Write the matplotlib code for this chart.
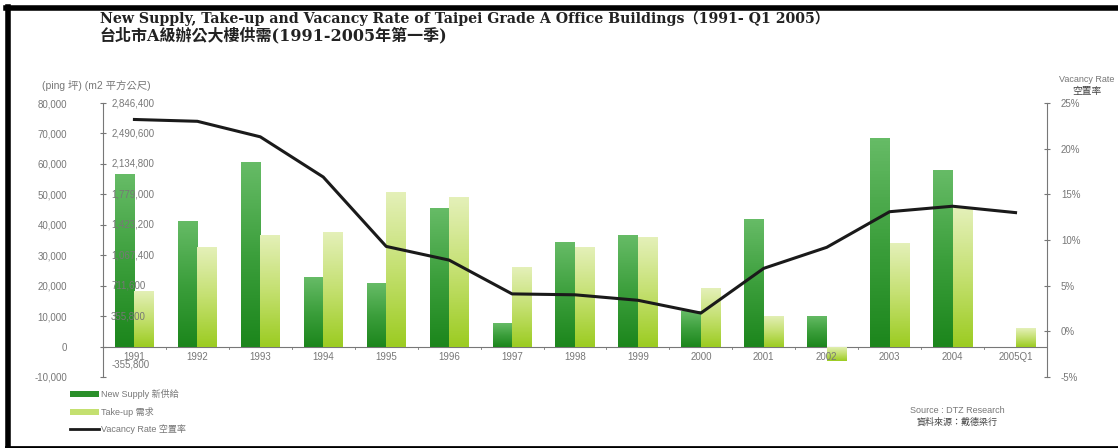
import numpy as np
import matplotlib
matplotlib.use("Agg")
import matplotlib.pyplot as plt
from matplotlib.colors import LinearSegmentedColormap
from matplotlib.lines import Line2D
from matplotlib.patches import Patch

years = ["1991", "1992", "1993", "1994", "1995", "1996", "1997", "1998",
         "1999", "2000", "2001", "2002", "2003", "2004", "2005Q1"]
new_supply = [56600, 41400, 60500, 22700, 21000, 45400, 7600, 34200,
              36500, 11800, 41800, 10200, 68400, 57900, 0]
take_up = [18400, 32600, 36800, 37500, 50700, 49000, 26000, 32600,
           35900, 19100, 10200, -4600, 33900, 45400, 6200]
vacancy = [23.2, 23.0, 21.3, 16.9, 9.3, 7.8, 4.1, 4.0,
           3.4, 2.0, 6.9, 9.2, 13.1, 13.7, 13.0]

left_ticks = [80000, 70000, 60000, 50000, 40000, 30000, 20000, 10000, 0, -10000]
sqm_labels = ["2,846,400", "2,490,600", "2,134,800", "1,779,000", "1,423,200",
              "1,067,400", "711,600", "355,800"]
right_ticks = [25, 20, 15, 10, 5, 0, -5]

font_list = ["Liberation Sans", "Noto Sans CJK TC"]
plt.rcParams["font.family"] = font_list
grey = "#777777"

fig = plt.figure(figsize=(11.18, 4.48), dpi=100)
ax = fig.add_axes([0.0921, 0.1585, 0.8444, 0.6115])
ax2 = ax.twinx()

x = np.arange(len(years))
w = 0.31
dark_cmap = LinearSegmentedColormap.from_list("dk", ["#1c861c", "#3c9f3c", "#66bb66"])
light_cmap = LinearSegmentedColormap.from_list("lt", ["#9ccc22", "#c4e070", "#e4f0b8"])
grad = np.linspace(0, 1, 64).reshape(-1, 1)

def gradient_bars(xs, vals, cmap):
    bars = ax.bar(xs, vals, width=w, color="none", edgecolor="none", zorder=2)
    for b in bars:
        x0, y0 = b.get_x(), b.get_y()
        bw, bh = b.get_width(), b.get_height()
        if bh == 0:
            continue
        lo, hi = min(y0, y0 + bh), max(y0, y0 + bh)
        im = ax.imshow(grad, cmap=cmap, origin="lower", aspect="auto",
                       extent=[x0, x0 + bw, lo, hi], zorder=2)
        im.set_clip_path(b)

gradient_bars(x - w / 2, new_supply, dark_cmap)
gradient_bars(x + w / 2, take_up, light_cmap)

ax.set_xlim(-0.5, len(years) - 0.5)
ax.set_ylim(-10000, 80000)
ax.set_yticks(left_ticks)
ax.set_yticklabels([f"{v:,}" for v in left_ticks], color=grey, fontsize=7)
ax.tick_params(axis="y", length=4, direction="inout", color=grey, pad=24)
ax.set_xticks([])
for s in ["top", "right", "bottom"]:
    ax.spines[s].set_visible(False)
ax.spines["left"].set_color(grey)
ax.axhline(0, color=grey, lw=0.8, zorder=1)
for i in range(len(years)):
    ax.text(i, -1800, years[i], ha="center", va="top", fontsize=7, color=grey)
    if i > 0:
        ax.plot([i - 0.5, i - 0.5], [0, -700], color=grey, lw=0.6)

# square-metre labels inside the plot
for v, lab in zip(left_ticks[:8], sqm_labels):
    ax.text(-0.37, v, lab, ha="left", va="center", fontsize=7, color=grey, zorder=3)
ax.text(-0.37, -6000, "-355,800", ha="left", va="center", fontsize=7, color=grey)

ax2.plot(x, vacancy, color="#1a1a1a", lw=2.2, zorder=5)
ax2.set_ylim(-5, 25)
ax2.set_yticks(right_ticks)
ax2.set_yticklabels([f"{v}%" for v in right_ticks], color=grey, fontsize=7)
ax2.tick_params(axis="y", length=4, direction="inout", color=grey, pad=8)
for s in ["top", "left", "bottom"]:
    ax2.spines[s].set_visible(False)
ax2.spines["right"].set_color(grey)

# titles and notes
title_font = ["DejaVu Serif", "Noto Sans CJK TC"]
fig.text(0.089, 0.960, "New Supply, Take-up and Vacancy Rate of Taipei Grade A Office Buildings（1991- Q1 2005）",
         fontsize=10.2, fontweight="bold", family=title_font, va="center", color="#222222")
fig.text(0.089, 0.919, "台北市A級辦公大樓供需(1991-2005年第一季)",
         fontsize=11.5, fontweight="bold", family=title_font, va="center", color="#222222")
fig.text(0.038, 0.81, "(ping 坪) (m2 平方公尺)", fontsize=7.5, color=grey, va="center")
fig.text(0.972, 0.822, "Vacancy Rate", fontsize=6.5, color=grey, ha="center", va="center")
fig.text(0.972, 0.797, "空置率", fontsize=7, color="#444444", ha="center", va="center")
fig.text(0.856, 0.083, "Source : DTZ Research", fontsize=6.5, color=grey, ha="center", va="center")
fig.text(0.856, 0.058, "資料來源：戴德梁行", fontsize=6.5, color="#444444", ha="center", va="center")

handles = [Patch(facecolor="#2a902a"), Patch(facecolor="#c4e070"),
           Line2D([], [], color="#1a1a1a", lw=2)]
labels = ["New Supply 新供給", "Take-up 需求", "Vacancy Rate 空置率"]
fig.legend(handles, labels, loc="lower left", bbox_to_anchor=(0.055, 0.012), frameon=False,
           fontsize=6.5, handlelength=3.2, handleheight=0.7, labelspacing=0.85,
           labelcolor=grey, handletextpad=0.3)

# black frame (top, left, bottom)
fig.add_artist(Line2D([0.005, 1.0], [0.982, 0.982], color="black", lw=4, transform=fig.transFigure))
fig.add_artist(Line2D([0.007, 0.007], [0.0, 0.984], color="black", lw=4, transform=fig.transFigure))
fig.add_artist(Line2D([0.005, 1.0], [0.003, 0.003], color="black", lw=2, transform=fig.transFigure))

fig.savefig("out.png", dpi=100)
